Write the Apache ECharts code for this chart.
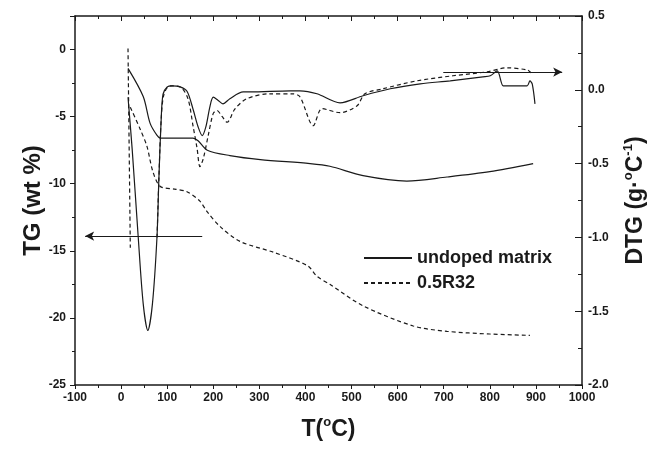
<!DOCTYPE html>
<html>
<head>
<meta charset="utf-8">
<script src="https://cdn.jsdelivr.net/npm/echarts@6/dist/echarts.min.js"></script>
<style>
  html, body { margin: 0; padding: 0; background: #fff; }
  #chart { width: 650px; height: 450px; }
</style>
</head>
<body>
<div id="chart"></div>
<script>
  // TG curves (left axis, wt %)
  var tgSolidT = [15, 48, 63, 78, 85, 156, 167, 187, 236, 302, 410, 453, 525, 620, 707, 800, 894];
  var tgSolidV = [-1.4, -3.5, -5.5, -6.4, -6.6, -6.6, -6.8, -7.5, -7.9, -8.2, -8.5, -8.7, -9.4, -9.8, -9.5, -9.1, -8.5];

  var tgDashT = [20, 41, 56, 69, 85, 117, 143, 171, 187, 215, 258, 330, 404, 425, 453, 525, 634, 707, 800, 887];
  var tgDashV = [-4.3, -5.9, -7.2, -9.1, -10.2, -10.4, -10.6, -11.3, -12.1, -13.2, -14.3, -15.1, -16.1, -16.9, -17.5, -19.1, -20.6, -21.0, -21.2, -21.3];

  // DTG curves (right axis, g.°C-1)
  var dtgSolidT = [15, 24, 37, 48, 58, 68, 78, 82, 87, 91, 100, 111, 128, 143, 156, 167, 176, 184, 193, 200, 210, 221, 236, 265, 280, 367, 388, 425, 475, 525, 584, 649, 714, 785, 801, 816, 829, 837, 881, 887, 892, 898];
  var dtgSolidV = [-0.05, -0.40, -0.99, -1.45, -1.63, -1.45, -0.99, -0.60, -0.20, -0.03, 0.02, 0.027, 0.02, -0.01, -0.13, -0.25, -0.31, -0.25, -0.11, -0.05, -0.07, -0.095, -0.06, -0.014, -0.014, -0.007, -0.007, -0.027, -0.088, -0.04, 0.007, 0.04, 0.061, 0.088, 0.095, 0.128, 0.027, 0.027, 0.027, 0.06, 0.04, -0.095];

  var dtgDashT = [15, 20, 21, 78, 82, 87, 93, 106, 128, 145, 156, 165, 171, 178, 189, 200, 208, 219, 230, 247, 273, 323, 373, 388, 417, 436, 475, 512, 529, 568, 642, 720, 794, 837, 881, 887, 892];
  var dtgDashV = [0.28, -1.07, null, -1.0, -0.60, -0.20, -0.03, 0.027, 0.02, -0.06, -0.243, -0.40, -0.52, -0.47, -0.31, -0.16, -0.14, -0.18, -0.22, -0.13, -0.06, -0.027, -0.027, -0.047, -0.243, -0.128, -0.155, -0.108, -0.027, 0.007, 0.061, 0.095, 0.122, 0.149, 0.135, 0.122, 0.11];

  // annotation arrows: [fromT, toT, value]
  var tgArrow = [176, -78, -13.9];
  var dtgArrow = [699, 957, 0.12];

  var xTicks = { min: -100, max: 1000, interval: 100 };
  var tgTicks = { min: -25, max: 2.5, interval: 5 };
  var dtgTicks = { min: -2, max: 0.5, interval: 0.5 };

  function pairs(t, v) {
    return t.map(function (x, i) { return [x, v[i]]; });
  }

  var ink = '#1a1a1a';
  var font = 'Arial, "Liberation Sans", sans-serif';
  var labelStyle = { color: ink, fontFamily: font, fontWeight: 'bold', fontSize: 12 };
  var solid = { color: ink, width: 1.2, type: 'solid' };
  var dashed = { color: ink, width: 1.2, type: [4, 3] };
  var supRich = {
    a: { fontFamily: font, fontWeight: 'bold', fontSize: 23, color: ink, lineHeight: 28 },
    s: { fontFamily: font, fontWeight: 'bold', fontSize: 13, color: ink, verticalAlign: 'top', lineHeight: 28 }
  };
  var axisLineStyle = { color: ink, width: 1.5 };

  var chart = echarts.init(document.getElementById('chart'));

  var option = {
    animation: false,
    backgroundColor: '#fff',
    grid: { left: 75, right: 68, top: 16, bottom: 65, outerBoundsMode: 'none' },
    legend: {
      data: ['undoped matrix', '0.5R32'],
      orient: 'vertical',
      left: 358,
      top: 244,
      itemWidth: 48,
      itemHeight: 12,
      itemGap: 7,
      itemStyle: { opacity: 0 },
      textStyle: { color: ink, fontFamily: font, fontWeight: 'bold', fontSize: 18 }
    },
    xAxis: [
      {
        type: 'value',
        min: xTicks.min, max: xTicks.max, interval: xTicks.interval,
        name: '{a|T(}{s|o}{a|C)}',
        nameLocation: 'middle',
        nameGap: 31,
        nameTextStyle: { rich: supRich },
        axisLine: { onZero: false, lineStyle: axisLineStyle },
        axisTick: { length: 4, lineStyle: { color: ink } },
        minorTick: { show: true, splitNumber: 2, length: 3, lineStyle: { color: ink } },
        axisLabel: Object.assign({ margin: 7, formatter: function (v) { return String(v); } }, labelStyle),
        splitLine: { show: false }
      },
      {
        type: 'value',
        position: 'top',
        min: xTicks.min, max: xTicks.max, interval: xTicks.interval,
        axisLine: { onZero: false, lineStyle: axisLineStyle },
        axisTick: { inside: true, length: 5, lineStyle: { color: ink } },
        minorTick: { show: true, splitNumber: 2, length: 3, lineStyle: { color: ink } },
        axisLabel: { show: false },
        splitLine: { show: false }
      }
    ],
    yAxis: [
      {
        type: 'value',
        position: 'left',
        min: tgTicks.min, max: tgTicks.max, interval: tgTicks.interval,
        name: 'TG (wt %)',
        nameLocation: 'middle',
        nameRotate: 90,
        nameGap: 30,
        nameMoveOverlap: false,
        nameTextStyle: { color: ink, fontFamily: font, fontWeight: 'bold', fontSize: 24 },
        axisLine: { show: true, onZero: false, lineStyle: axisLineStyle },
        axisTick: { length: 5, lineStyle: { color: ink } },
        minorTick: { show: true, splitNumber: 2, length: 3, lineStyle: { color: ink } },
        axisLabel: Object.assign({ showMaxLabel: false, margin: 9 }, labelStyle),
        splitLine: { show: false }
      },
      {
        type: 'value',
        position: 'right',
        min: dtgTicks.min, max: dtgTicks.max, interval: dtgTicks.interval,
        name: '{a|DTG (g·}{s|o}{a|C}{s|-1}{a|)}',
        nameLocation: 'middle',
        nameRotate: 90,
        nameGap: 40,
        nameMoveOverlap: false,
        nameTextStyle: { rich: supRich },
        axisLine: { show: true, onZero: false, lineStyle: axisLineStyle },
        axisTick: { inside: true, length: 7, lineStyle: { color: ink } },
        minorTick: { show: true, splitNumber: 2, length: 4, lineStyle: { color: ink } },
        axisLabel: Object.assign({
          margin: 6,
          formatter: function (v) { return v.toFixed(1); }
        }, labelStyle),
        splitLine: { show: false }
      }
    ],
    series: [
      {
        name: 'undoped matrix', type: 'line', xAxisIndex: 0, yAxisIndex: 0,
        data: pairs(tgSolidT, tgSolidV), showSymbol: false, symbol: 'none', smooth: 0.3,
        lineStyle: solid, itemStyle: { color: ink },
        markLine: {
          silent: true, symbol: ['none', 'arrow'], symbolSize: [7, 9],
          label: { show: false },
          lineStyle: { color: ink, width: 1.2, type: 'solid' },
          data: [[{ coord: [tgArrow[0], tgArrow[2]] }, { coord: [tgArrow[1], tgArrow[2]] }]]
        }
      },
      {
        name: '0.5R32', type: 'line', xAxisIndex: 0, yAxisIndex: 0,
        data: pairs(tgDashT, tgDashV), showSymbol: false, symbol: 'none', smooth: 0.3,
        lineStyle: dashed, itemStyle: { color: ink }
      },
      {
        name: 'undoped matrix', type: 'line', xAxisIndex: 0, yAxisIndex: 1,
        data: pairs(dtgSolidT, dtgSolidV), showSymbol: false, symbol: 'none', smooth: 0.3,
        lineStyle: solid, itemStyle: { color: ink },
        markLine: {
          silent: true, symbol: ['none', 'arrow'], symbolSize: [7, 9],
          label: { show: false },
          lineStyle: { color: ink, width: 1.2, type: 'solid' },
          data: [[{ coord: [dtgArrow[0], dtgArrow[2]] }, { coord: [dtgArrow[1], dtgArrow[2]] }]]
        }
      },
      {
        name: '0.5R32', type: 'line', xAxisIndex: 0, yAxisIndex: 1,
        data: pairs(dtgDashT, dtgDashV), showSymbol: false, symbol: 'none', smooth: 0.3,
        connectNulls: false,
        lineStyle: dashed, itemStyle: { color: ink }
      }
    ]
  };

  chart.setOption(option);
</script>
</body>
</html>
